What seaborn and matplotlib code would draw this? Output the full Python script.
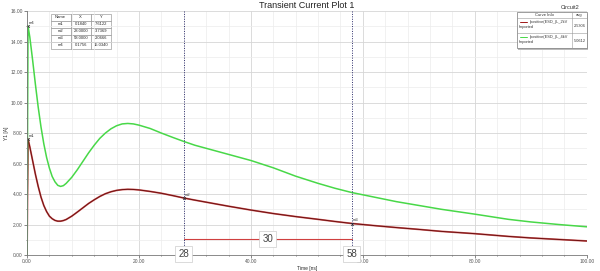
import numpy as np
import pandas as pd
import seaborn as sns
import matplotlib
matplotlib.use("Agg")
import matplotlib.pyplot as plt
from matplotlib.patches import Rectangle
from matplotlib.ticker import MultipleLocator, FormatStrFormatter

# ---- data ----
time_ns = [0, 0.18, 0.5, 1, 1.5, 2, 2.5, 3, 3.5, 4, 4.5, 5, 5.5, 6, 6.5, 7, 8, 9, 10, 11,
           12, 13, 14, 15, 16, 17, 18, 19, 20, 22, 24, 26, 28, 30, 33, 36, 40, 44, 48, 52,
           55, 58, 62, 66, 70, 74, 80, 86, 90, 95, 100]
i_2kv = [0, 7.61, 7.1, 6.2, 5.3, 4.5, 3.8, 3.25, 2.85, 2.55, 2.38, 2.27, 2.22, 2.22, 2.26,
         2.33, 2.55, 2.82, 3.1, 3.38, 3.62, 3.84, 4.02, 4.15, 4.24, 4.29, 4.31, 4.3, 4.27,
         4.17, 4.05, 3.9, 3.74, 3.6, 3.4, 3.2, 2.95, 2.72, 2.52, 2.34, 2.2, 2.07, 1.93, 1.8,
         1.68, 1.55, 1.4, 1.22, 1.12, 1.02, 0.92]
i_4kv = [0, 15.03, 14.3, 12.8, 11.2, 9.7, 8.4, 7.3, 6.4, 5.7, 5.15, 4.8, 4.57, 4.5, 4.55,
         4.7, 5.1, 5.6, 6.15, 6.7, 7.2, 7.65, 8.0, 8.28, 8.48, 8.6, 8.63, 8.6, 8.52, 8.3,
         8.0, 7.72, 7.45, 7.2, 6.9, 6.6, 6.2, 5.72, 5.17, 4.7, 4.38, 4.1, 3.8, 3.5, 3.25,
         3.0, 2.68, 2.34, 2.17, 2.0, 1.85]
series_names = ["Ipositive(ESD_(L_2kV", "Ipositive(ESD_(L_4kV"]
series_avg = ["2.5306", "5.0612"]
marker_names = ["m1", "m2", "m3", "m4"]
marker_x = [0.1840, 28.0000, 58.0000, 0.1756]
marker_y = [7.6122, 3.7369, 2.0666, 15.0340]
delta_x = [28, 58]
delta_label = "30"

df = pd.DataFrame({"t": time_ns * 2,
                   "I": i_2kv + i_4kv,
                   "curve": [series_names[0]] * len(time_ns) + [series_names[1]] * len(time_ns)})

sns.set_theme(style="white")
plt.rcParams["font.family"] = ["Liberation Sans", "DejaVu Sans"]

fig = plt.figure(figsize=(6.0, 2.71), dpi=100)
ax = fig.add_axes([0.045, 0.059, 0.933, 0.9])

red = df[df.curve == series_names[0]]
green = df[df.curve == series_names[1]]
sns.lineplot(data=red, x="t", y="I", ax=ax, color="#d06060", lw=1.3, legend=False)
sns.lineplot(data=red, x="t", y="I", ax=ax, color="#6e0f0f", lw=0.7, legend=False)
sns.lineplot(data=green, x="t", y="I", ax=ax, color="#48d848", lw=1.1, legend=False)

ax.set_xlim(0, 100)
ax.set_ylim(0, 16)
ax.xaxis.set_major_locator(MultipleLocator(20))
ax.xaxis.set_minor_locator(MultipleLocator(4))
ax.yaxis.set_major_locator(MultipleLocator(2))
ax.yaxis.set_minor_locator(MultipleLocator(1))
ax.xaxis.set_major_formatter(FormatStrFormatter("%.2f"))
ax.yaxis.set_major_formatter(FormatStrFormatter("%.2f"))
ax.grid(which="major", color="#d6d6d6", lw=0.6)
ax.grid(which="minor", color="#ececec", lw=0.5)
ax.set_axisbelow(True)
ax.tick_params(which="both", direction="out", labelsize=3.5, length=2, width=0.5,
               colors="#555555", pad=1, bottom=True, left=True)
ax.tick_params(which="minor", length=1)
for s in ["top", "right"]:
    ax.spines[s].set_visible(False)
for s in ["left", "bottom"]:
    ax.spines[s].set_color("#777777")
    ax.spines[s].set_linewidth(0.6)
ax.set_xlabel("Time [ns]", fontsize=3.5, labelpad=1)
ax.set_ylabel("Y1 [A]", fontsize=3.5, labelpad=1)
ax.set_title("Transient Current Plot 1", fontsize=6.5, pad=2, color="#222222")
fig.text(0.965, 0.972, "Circuit2", fontsize=4, ha="right", va="center", color="#333333")

# marker lines
for xv in delta_x:
    ax.axvline(xv, color="#2a2a6a", ls=(0, (1, 1.5)), lw=0.7)
for n, xv, yv in zip(marker_names, marker_x, marker_y):
    ax.plot([xv], [yv], marker="x", ms=2, color="#333333", mew=0.5)
    ax.text(xv + 0.2, yv + 0.15, n, fontsize=3, color="#333333")

# delta line
ax.plot(delta_x, [1.05, 1.05], color="#d04040", lw=0.8)
box = dict(boxstyle="square,pad=0.3", fc="white", ec="#cccccc", lw=0.5)
ax.text(np.mean(delta_x), 1.05, delta_label, fontsize=7, ha="center", va="center",
        color="#444444", bbox=box)
for xv in delta_x:
    ax.text(xv, 0.05, str(xv), fontsize=7, ha="center", va="center", color="#444444",
            bbox=box, clip_on=False)

# marker table
tbl = ax.table(cellText=[[n, f"{x:.4f}", f"{y:.4f}"] for n, x, y in zip(marker_names, marker_x, marker_y)],
               colLabels=["Name", "X", "Y"], bbox=[0.042, 0.845, 0.108, 0.145],
               cellLoc="center")
tbl.auto_set_font_size(False)
tbl.set_fontsize(3)
for c in tbl.get_celld().values():
    c.set_linewidth(0.4)
    c.set_edgecolor("#888888")

# legend box (drawn manually in axes coordinates)
T = ax.transAxes
x0, x1, xd = 0.875, 1.0, 0.974
y0, y1 = 0.848, 0.996
yh = y1 - 0.024
ym = (y0 + yh) / 2
ax.add_patch(Rectangle((x0 + 0.002, y0 - 0.006), x1 - x0, y1 - y0, transform=T,
                       fc="#bbbbbb", ec="none", clip_on=False, zorder=5))
ax.add_patch(Rectangle((x0, y0), x1 - x0, y1 - y0, transform=T, fc="white",
                       ec="#777777", lw=0.5, clip_on=False, zorder=6))
for yy in [yh, ym]:
    ax.plot([x0, x1], [yy, yy], transform=T, color="#999999", lw=0.4, clip_on=False, zorder=7)
ax.plot([xd, xd], [y0, y1], transform=T, color="#999999", lw=0.4, clip_on=False, zorder=7)
ax.text((x0 + xd) / 2, (yh + y1) / 2, "Curve Info", transform=T, fontsize=3,
        ha="center", va="center", zorder=8, color="#333333")
ax.text((xd + x1) / 2, (yh + y1) / 2, "avg", transform=T, fontsize=3,
        ha="center", va="center", zorder=8, color="#333333")
row_colors = ["#a01818", "#48d848"]
for k, (nm, av, col) in enumerate(zip(series_names, series_avg, row_colors)):
    top = yh - k * (yh - ym)
    bot = top - (yh - ym)
    ax.plot([x0 + 0.005, x0 + 0.019], [top - 0.016, top - 0.016], transform=T,
            color=col, lw=0.7, clip_on=False, zorder=8)
    ax.text(x0 + 0.022, top - 0.016, nm, transform=T, fontsize=2.8, ha="left",
            va="center", zorder=8, color="#333333")
    ax.text(x0 + 0.003, top - 0.037, "Imported", transform=T, fontsize=2.8, ha="left",
            va="center", zorder=8, color="#333333")
    ax.text((xd + x1) / 2, (top + bot) / 2, av, transform=T, fontsize=2.8,
            ha="center", va="center", zorder=8, color="#333333")

fig.savefig("out.png", dpi=100)
